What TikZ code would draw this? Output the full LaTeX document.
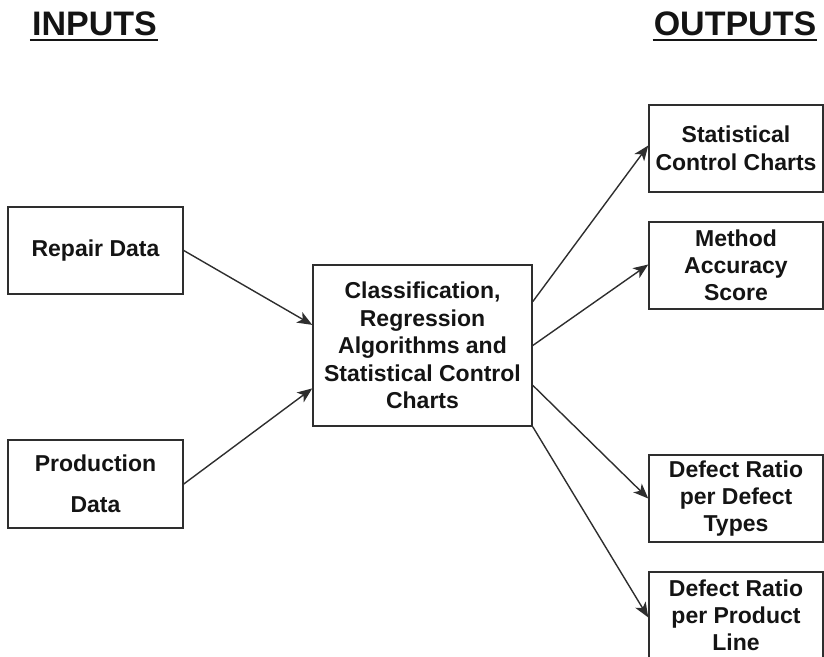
\documentclass[tikz,border=0pt]{standalone}
\usepackage{fontspec}
\setmainfont{Liberation Sans}
\usetikzlibrary{arrows.meta,calc}
\definecolor{ink}{HTML}{141414}
\definecolor{edge}{HTML}{2E2E2E}
\begin{document}
\begin{tikzpicture}[x=1pt,y=-1pt,
  box/.style={draw=edge,line width=1.5pt,rectangle,inner sep=0pt,align=center,
    minimum width=#1,text=ink,
    font=\fontsize{23}{28}\selectfont\bfseries},
  box/.default=175pt,
  heading/.style={inner sep=0pt,text=ink,font=\fontsize{34}{40}\selectfont\bfseries},
  link/.style={draw=edge,line width=1.4pt,-{Stealth[length=15pt,width=12pt,inset=4pt]}}]
\useasboundingbox (0,0) rectangle (824,656);
\clip (0,0) rectangle (824,656);

% column headings
\node[heading,anchor=base] (inputs) at (94.5,35) {INPUTS};
\node[heading,anchor=base] (outputs) at (735,35) {OUTPUTS};
\draw[ink,line width=2.5pt] ([xshift=-2pt,yshift=-5pt]inputs.base west) -- ([xshift=1pt,yshift=-5pt]inputs.base east);
\draw[ink,line width=2.5pt] ([xshift=-1pt,yshift=-5pt]outputs.base west) -- ([xshift=1pt,yshift=-5pt]outputs.base east);

% inputs
\node[box,minimum height=87pt] (repair) at (95.5,250.5) {Repair Data};
\node[box,minimum height=88pt,font=\fontsize{23}{41}\selectfont\bfseries] (production) at (95.5,484) {Production\\Data};

% processing
\node[box=219pt,minimum height=161pt,font=\fontsize{23}{27.5}\selectfont\bfseries] (core) at (422.5,345.5)
  {Classification,\\Regression\\Algorithms and\\Statistical Control\\Charts};

% outputs
\node[box=174pt,minimum height=87pt] (charts) at (736,148.5) {Statistical\\Control Charts};
\node[box=174pt,minimum height=87pt,font=\fontsize{23}{27}\selectfont\bfseries] (score) at (736,265.5) {Method\\Accuracy\\Score};
\node[box=174pt,minimum height=87pt,font=\fontsize{23}{27}\selectfont\bfseries] (types) at (736,498.5) {Defect Ratio\\per Defect\\Types};
\node[box=174pt,minimum height=87pt,font=\fontsize{23}{27}\selectfont\bfseries] (product) at (736,615.5) {Defect Ratio\\per Product\\Line};

% connectors
\draw[link] (repair.east) -- ($(core.north west)!0.373!(core.south west)$);
\draw[link] (production.east) -- ($(core.north west)!0.764!(core.south west)$);
\draw[link] ($(core.north east)!0.23!(core.south east)$) -- ([yshift=3pt]charts.west);
\draw[link] (core.east) -- ([yshift=1pt]score.west);
\draw[link] ($(core.north east)!0.745!(core.south east)$) -- (types.west);
\draw[link] (core.south east) -- ([yshift=-2pt]product.west);
\end{tikzpicture}
\end{document}
